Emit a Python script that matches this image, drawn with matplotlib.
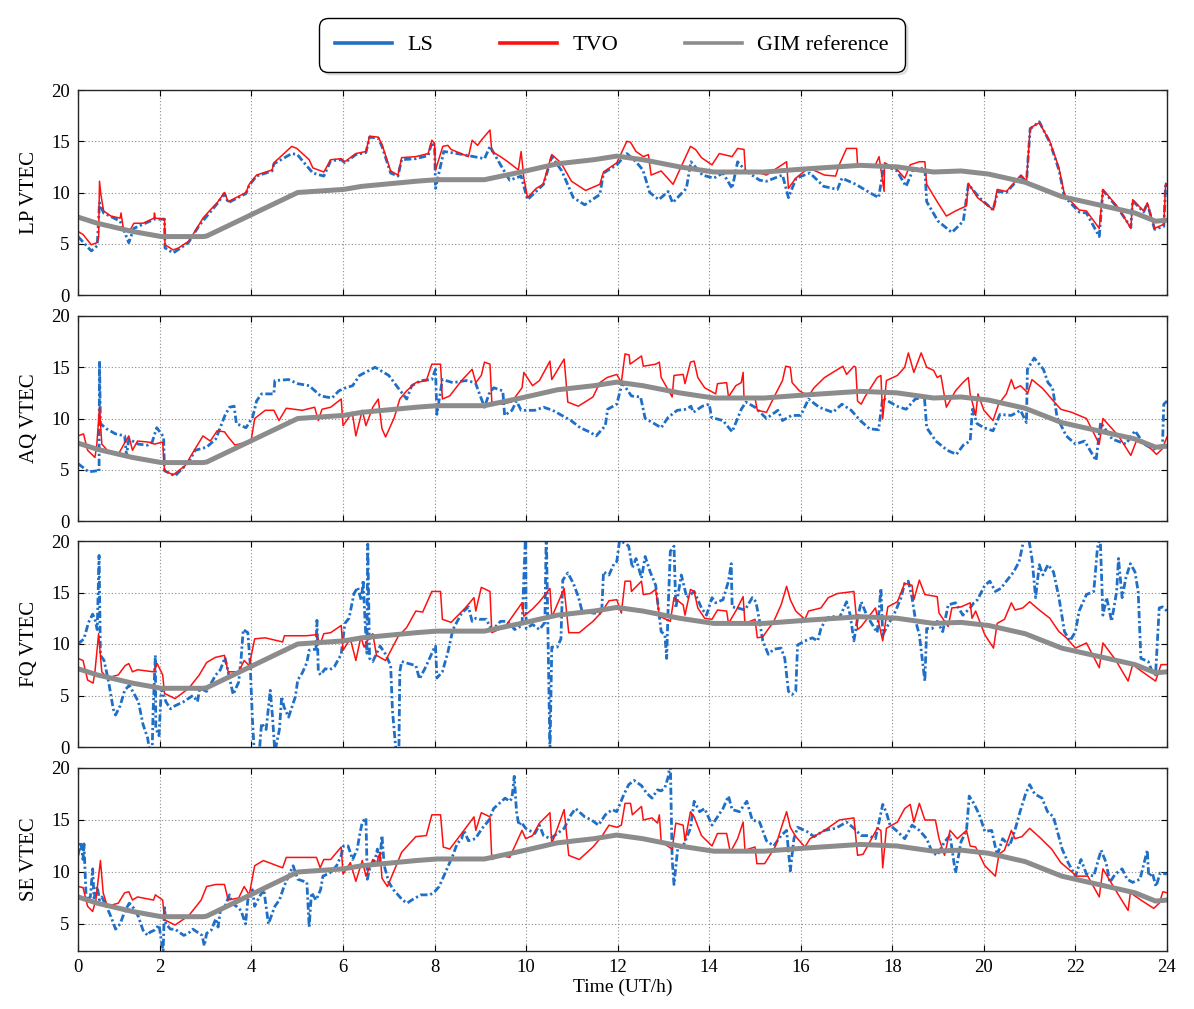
import matplotlib
matplotlib.use("Agg")
import matplotlib.pyplot as plt

plt.rcParams['font.family'] = ['Liberation Serif', 'DejaVu Serif']

# ---------------- data ----------------
panel_labels = ["LP VTEC", "AQ VTEC", "FQ VTEC", "SE VTEC"]
series_names = ["LS", "TVO", "GIM reference"]
x_tick_pos = [0.21, 2, 4, 6, 8, 10, 12, 14, 16, 18, 20, 22, 24]
x_tick_labels = ["0", "2", "4", "6", "8", "10", "12", "14", "16", "18", "20", "22", "24"]
xlabel = "Time (UT/h)"

gim_t = [0.21, 0.63, 1.40, 2.03, 2.94, 3.02, 5.01, 6.01, 6.41, 7.60, 8.05, 9.09, 9.89, 10.68, 11.48,
         11.98, 12.55, 13.35, 14.1, 15.2, 16.1, 17.3, 18.1, 18.9, 19.5, 20.1, 20.9, 21.7, 22.5, 23.3, 23.75, 24.0]
gim_v = [7.6, 7.0, 6.2, 5.7, 5.7, 5.75, 10.0, 10.3, 10.6, 11.1, 11.25, 11.25, 12.0, 12.8, 13.2,
         13.55, 13.2, 12.5, 12.0, 12.0, 12.3, 12.65, 12.5, 12.0, 12.1, 11.8, 11.0, 9.6, 8.8, 8.0, 7.2, 7.3]

# ---- LP ----
lp_tvo_t = [0.21, 0.32, 0.50, 0.62, 0.66, 0.68, 0.71, 0.77, 0.93, 1.13, 1.15, 1.20, 1.32, 1.43, 1.63, 1.87, 1.88, 1.90,
            2.10, 2.11, 2.29, 2.41, 2.63, 2.86, 2.94, 3.10, 3.25, 3.41, 3.49, 3.88, 3.95, 4.11, 4.45, 4.49, 4.88, 4.99,
            5.26, 5.34, 5.58, 5.73, 5.96, 6.04, 6.28, 6.50, 6.58, 6.77, 6.85, 7.04, 7.20, 7.28, 7.59, 7.86, 7.94, 8.00,
            8.02, 8.18, 8.29, 8.36, 8.74, 8.82, 8.94, 9.02, 9.21, 9.25, 9.44, 9.60, 9.83, 9.89, 9.95, 10.03, 10.22,
            10.37, 10.56, 10.76, 10.99, 11.30, 11.61, 11.69, 11.98, 12.2, 12.28, 12.4, 12.56, 12.67, 12.73, 12.95,
            13.21, 13.59, 13.7, 13.83, 14.06, 14.22, 14.5, 14.62, 14.76, 14.79, 15.1, 15.25, 15.69, 15.73, 15.89,
            16.17, 16.52, 16.76, 16.84, 17.0, 17.22, 17.24, 17.63, 17.71, 17.82, 17.83, 18.11, 18.27, 18.39, 18.59,
            18.71, 18.75, 18.98, 19.18, 19.38, 19.62, 19.66, 19.86, 20.21, 20.29, 20.49, 20.65, 20.81, 20.93, 21.01,
            21.21, 21.44, 21.64, 21.76, 22.08, 22.24, 22.52, 22.6, 22.94, 23.21, 23.25, 23.49, 23.57, 23.73, 23.93,
            23.97, 24.0]
lp_tvo_v = [6.2, 5.9, 4.9, 5.1, 5.6, 11.1, 9.8, 8.2, 7.7, 7.5, 8.0, 6.5, 6.1, 7.0, 7.0, 7.5, 8.0, 7.5,
            7.4, 4.9, 4.4, 4.6, 5.25, 6.9, 7.5, 8.3, 9.0, 10.0, 9.1, 10.0, 10.8, 11.7, 12.2, 12.9, 14.5, 14.3,
            13.2, 12.4, 12.0, 13.2, 13.3, 13.0, 13.8, 14.0, 15.5, 15.4, 14.7, 12.1, 11.7, 13.4, 13.5, 13.8, 15.1, 14.8,
            12.2, 14.5, 14.6, 14.2, 13.5, 15.1, 14.6, 15.1, 16.1, 14.0, 13.5, 13.0, 12.2, 14.0, 11.4, 9.5, 10.4,
            10.8, 13.7, 12.9, 11.1, 10.2, 10.8, 12.0, 12.9, 15.0, 14.9, 14.0, 13.5, 13.7, 11.7, 12.1,
            10.8, 14.5, 14.2, 13.4, 12.7, 13.8, 13.5, 14.3, 14.2, 12.1, 11.9, 11.7, 13.0, 10.4, 11.4,
            12.4, 11.7, 11.6, 12.7, 14.3, 14.3, 12.7, 12.7, 13.5, 10.1, 12.9, 12.2, 11.4, 12.7, 13.0,
            13.0, 10.8, 9.1, 7.7, 8.2, 8.7, 10.9, 9.5, 8.3, 10.3, 10.1, 10.9, 11.7, 11.1, 16.3,
            16.8, 15.0, 12.4, 9.8, 8.3, 8.2, 6.5, 10.3, 8.5, 6.5, 9.3, 8.2, 9.0, 6.5, 6.9,
            10.9, 10.8]
lp_ls_t = [0.21, 0.50, 0.63, 0.68, 0.77, 1.13, 1.32, 1.43, 1.88, 2.10, 2.11, 2.29, 2.62, 2.86, 3.10, 3.25, 3.41, 3.49,
           3.88, 3.95, 4.11, 4.45, 4.49, 4.88, 5.00, 5.34, 5.58, 5.73, 5.96, 6.04, 6.28, 6.50, 6.58, 6.77, 6.85, 7.04,
           7.20, 7.28, 7.59, 7.86, 7.94, 8.00, 8.02, 8.20, 8.50, 9.09, 9.21, 9.44, 9.64, 9.89, 10.03, 10.38, 10.56,
           10.78, 11.03, 11.28, 11.61, 11.69, 11.98, 12.2, 12.4, 12.55, 12.7, 12.9, 13.1, 13.2, 13.5, 13.6, 13.85,
           14.1, 14.3, 14.5, 14.62, 14.8, 15.1, 15.25, 15.6, 15.73, 15.9, 16.2, 16.5, 16.8, 16.9, 17.2, 17.5, 17.7,
           17.82, 18.1, 18.3, 18.45, 18.71, 18.75, 19.0, 19.3, 19.55, 19.66, 19.9, 20.2, 20.3, 20.49, 20.65, 20.81,
           20.93, 21.01, 21.21, 21.44, 21.64, 21.76, 22.08, 22.24, 22.52, 22.6, 22.94, 23.21, 23.25, 23.49, 23.57,
           23.73, 23.93, 23.97, 24.0]
lp_ls_v = [5.7, 4.3, 4.8, 9.0, 8.0, 7.2, 5.1, 6.5, 7.4, 7.4, 4.6, 4.1, 5.1, 6.8, 8.1, 8.9, 9.9, 9.0,
           9.9, 10.7, 11.6, 12.1, 12.8, 13.8, 13.7, 11.9, 11.6, 13.1, 13.2, 12.9, 13.7, 13.9, 15.4, 15.3, 14.5, 11.9,
           11.6, 13.2, 13.3, 13.6, 14.9, 14.5, 10.4, 14.0, 13.8, 13.3, 14.5, 12.7, 11.2, 11.6, 9.3, 10.8, 13.5,
           12.1, 9.5, 8.8, 9.8, 11.9, 12.7, 13.8, 13.0, 12.2, 10.0, 9.3, 10.1, 9.0, 10.4, 13.0, 11.7,
           11.4, 11.9, 10.4, 13.0, 12.1, 11.2, 11.1, 11.7, 9.5, 11.4, 11.9, 10.6, 10.3, 11.4, 10.8, 10.0, 9.5,
           12.7, 12.1, 10.6, 12.2, 12.4, 9.1, 7.2, 6.1, 7.2, 10.8, 9.5, 8.3, 10.1, 10.0, 10.8, 11.6,
           11.0, 16.2, 16.9, 14.9, 12.2, 9.6, 8.1, 8.0, 5.7, 10.2, 8.4, 6.6, 9.2, 8.1, 8.9,
           6.4, 6.7, 10.8, 10.9]

# ---- AQ ----
aq_tvo_t = [0.21, 0.33, 0.42, 0.58, 0.62, 0.68, 0.73, 0.85, 1.09, 1.24, 1.32, 1.40, 1.51, 1.75, 1.88, 2.06, 2.10, 2.29,
            2.55, 2.75, 2.94, 3.10, 3.25, 3.41, 3.49, 3.64, 3.88, 3.99, 4.07, 4.30, 4.49, 4.60, 4.76, 5.11, 5.38, 5.46,
            5.54, 5.73, 5.96, 6.00, 6.20, 6.28, 6.42, 6.50, 6.65, 6.77, 6.85, 6.93, 7.12, 7.24, 7.39, 7.59, 7.82, 7.94,
            8.13, 8.17, 8.33, 8.59, 8.82, 8.90, 9.02, 9.09, 9.21, 9.25, 9.44, 9.68, 9.91, 9.95, 10.14, 10.29, 10.52,
            10.56, 10.83, 10.91, 11.14, 11.46, 11.61, 11.77, 11.98, 12.08, 12.16, 12.25, 12.27, 12.52, 12.56, 12.83,
            12.91, 12.95, 13.19, 13.23, 13.43, 13.47, 13.59, 13.67, 13.75, 13.9, 14.14, 14.18, 14.38, 14.42, 14.58,
            14.7, 14.74, 14.76, 15.0, 15.05, 15.25, 15.45, 15.6, 15.67, 15.77, 15.81, 15.97, 16.17, 16.29, 16.52,
            16.92, 17.0, 17.16, 17.2, 17.24, 17.32, 17.4, 17.67, 17.75, 17.79, 17.87, 18.11, 18.27, 18.35, 18.47,
            18.63, 18.75, 18.9, 18.98, 19.06, 19.18, 19.38, 19.54, 19.66, 19.7, 19.82, 19.87, 20.0, 20.2, 20.32,
            20.49, 20.6, 20.67, 20.8, 20.96, 21.05, 21.29, 21.52, 21.68, 21.92, 22.24, 22.52, 22.6, 22.94, 23.21,
            23.33, 23.57, 23.77, 23.89, 24.0]
aq_tvo_v = [8.3, 8.5, 6.9, 6.2, 7.4, 11.1, 7.5, 6.9, 6.5, 7.7, 8.3, 6.9, 7.8, 7.7, 7.5, 7.7, 4.9, 4.5,
            5.4, 6.9, 8.3, 7.8, 8.8, 8.7, 8.2, 7.4, 7.7, 7.8, 10.0, 10.8, 10.8, 9.8, 11.0, 10.8, 11.1, 9.8,
            10.9, 11.1, 11.9, 9.3, 10.6, 8.3, 10.8, 9.3, 11.1, 11.9, 9.0, 8.2, 10.1, 11.9, 12.7, 13.5, 13.7, 15.3,
            15.3, 11.9, 12.2, 13.7, 14.8, 13.5, 14.2, 15.5, 15.3, 11.6, 11.4, 11.6, 13.0, 14.5, 13.2, 13.7, 15.6,
            13.8, 15.8, 11.6, 11.2, 12.1, 13.5, 14.0, 14.3, 13.5, 16.3, 16.2, 15.3, 16.1, 15.1, 15.3,
            15.5, 14.0, 12.1, 14.2, 14.3, 13.4, 15.5, 15.6, 14.0, 13.0, 12.4, 13.4, 13.5, 12.1, 13.2,
            13.5, 14.5, 11.9, 12.0, 10.8, 10.6, 12.4, 13.7, 15.1, 15.0, 13.5, 12.7, 12.2, 13.0, 14.0,
            15.1, 14.3, 15.1, 15.0, 11.7, 11.4, 12.1, 14.0, 14.2, 10.0, 13.7, 14.2, 15.0, 16.4, 14.5,
            16.4, 15.0, 14.7, 14.0, 14.2, 11.1, 12.7, 13.5, 14.0, 12.4, 10.3, 12.4, 10.8, 9.8, 11.4,
            12.4, 13.8, 12.9, 13.2, 12.5, 13.8, 12.9, 11.7, 10.9, 10.6, 10.0, 7.5, 10.0, 8.3, 6.4,
            7.8, 7.4, 6.5, 7.0, 8.2]
aq_ls_t = [0.21, 0.44, 0.63, 0.67, 0.68, 0.70, 0.83, 1.03, 1.23, 1.27, 1.32, 1.53, 1.73, 1.83, 1.93, 2.03, 2.08, 2.10,
           2.33, 2.62, 2.77, 3.02, 3.22, 3.42, 3.52, 3.62, 3.67, 3.88, 4.02, 4.07, 4.11, 4.22, 4.49, 4.51, 4.81, 5.01,
           5.26, 5.51, 5.76, 5.91, 6.06, 6.21, 6.36, 6.70, 7.00, 7.20, 7.39, 7.50, 7.70, 7.94, 8.02, 8.05, 8.17, 8.40,
           8.69, 8.89, 9.09, 9.19, 9.29, 9.49, 9.53, 9.69, 9.79, 9.89, 10.19, 10.38, 10.58, 10.78, 10.98, 11.18,
           11.38, 11.53, 11.73, 11.78, 11.98, 12.1, 12.3, 12.5, 12.6, 12.8, 12.95, 13.1, 13.3, 13.5, 13.6, 13.65,
           13.85, 14.0, 14.05, 14.3, 14.5, 14.7, 14.8, 15.0, 15.25, 15.5, 15.6, 15.8, 16.0, 16.17, 16.4, 16.7, 16.9,
           17.1, 17.3, 17.5, 17.7, 17.79, 18.1, 18.3, 18.5, 18.7, 18.75, 18.95, 19.2, 19.4, 19.55, 19.7, 19.75,
           19.85, 20.0, 20.2, 20.35, 20.6, 20.8, 20.93, 20.95, 21.1, 21.3, 21.4, 21.5, 21.6, 21.8, 22.0, 22.2,
           22.45, 22.55, 22.8, 23.1, 23.3, 23.5, 23.7, 23.9, 23.93, 24.0]
aq_ls_v = [5.6, 4.8, 4.9, 4.8, 15.6, 9.5, 9.0, 8.5, 8.3, 6.4, 8.0, 7.5, 7.4, 7.7, 9.1, 8.5, 8.2, 4.9,
           4.4, 5.7, 6.9, 7.2, 8.0, 10.3, 11.1, 11.2, 9.5, 9.1, 10.1, 10.9, 11.7, 12.4, 12.4, 13.7, 13.8, 13.4,
           13.2, 12.2, 12.0, 12.7, 13.0, 13.2, 14.2, 15.0, 14.2, 13.0, 11.9, 13.2, 13.7, 13.8, 14.8, 10.4, 13.8, 13.5,
           13.7, 13.5, 11.1, 12.4, 13.0, 12.7, 10.3, 10.8, 11.7, 10.8, 10.8, 11.1, 10.8, 10.3, 9.8, 9.1,
           8.7, 8.3, 9.3, 10.9, 11.4, 13.5, 12.2, 12.1, 10.0, 9.5, 9.1, 10.1, 10.8, 10.9, 11.2, 10.6,
           11.2, 11.4, 10.1, 9.8, 8.7, 10.9, 11.6, 11.1, 10.0, 10.8, 9.8, 10.3, 10.3, 11.9, 11.1, 10.6, 11.4,
           10.8, 9.8, 9.0, 8.9, 12.0, 11.2, 10.9, 11.9, 12.1, 9.1, 7.8, 6.9, 6.5, 7.4, 7.8, 10.9,
           9.5, 9.1, 8.8, 10.4, 10.3, 10.8, 9.6, 14.8, 15.9, 14.8, 13.5, 13.0, 10.1, 8.3, 7.5, 7.8,
           5.9, 9.6, 8.0, 7.5, 8.8, 7.5, 7.0, 7.2, 11.4, 11.7]

# ---- FQ ----
fq_tvo_t = [0.21, 0.32, 0.42, 0.54, 0.58, 0.66, 0.73, 0.85, 1.09, 1.24, 1.32, 1.40, 1.51, 1.86, 1.94, 2.06, 2.10, 2.33,
            2.63, 2.86, 3.02, 3.21, 3.41, 3.49, 3.72, 3.84, 3.95, 4.07, 4.30, 4.68, 4.72, 5.19, 5.42, 5.50, 5.58, 5.73,
            5.96, 6.00, 6.16, 6.28, 6.39, 6.46, 6.58, 6.65, 6.73, 6.93, 7.20, 7.39, 7.59, 7.74, 7.94, 8.13, 8.17, 8.36,
            8.67, 8.86, 8.90, 9.02, 9.21, 9.25, 9.40, 9.56, 9.91, 9.95, 10.14, 10.29, 10.52, 10.56, 10.83, 10.93,
            11.16, 11.46, 11.65, 11.81, 11.98, 12.08, 12.16, 12.28, 12.3, 12.52, 12.56, 12.71, 12.83, 12.91, 13.15,
            13.23, 13.43, 13.47, 13.59, 13.67, 13.75, 13.9, 14.06, 14.18, 14.38, 14.42, 14.58, 14.74, 14.78, 15.0,
            15.05, 15.17, 15.41, 15.57, 15.69, 15.77, 15.89, 16.09, 16.17, 16.44, 16.6, 16.8, 17.16, 17.24, 17.32,
            17.63, 17.79, 17.9, 18.11, 18.27, 18.43, 18.47, 18.59, 18.71, 18.98, 19.02, 19.22, 19.3, 19.5, 19.7,
            19.74, 19.82, 20.02, 20.21, 20.29, 20.45, 20.6, 20.68, 20.85, 21.0, 21.21, 21.44, 21.64, 21.8, 22.0,
            22.24, 22.52, 22.6, 22.87, 23.15, 23.25, 23.43, 23.75, 23.87, 24.0]
fq_tvo_v = [8.6, 8.4, 6.5, 6.2, 7.3, 11.0, 7.3, 6.7, 7.0, 7.9, 8.1, 7.3, 7.5, 7.3, 8.1, 7.0, 5.2, 4.7,
            5.7, 7.0, 8.2, 8.7, 8.9, 7.3, 7.3, 8.4, 7.9, 10.5, 10.6, 10.2, 10.8, 10.8, 10.9, 10.0, 11.0, 11.1,
            11.8, 9.4, 10.5, 8.4, 10.7, 9.7, 10.7, 11.0, 8.9, 8.4, 10.7, 11.6, 13.2, 13.1, 15.1, 15.1, 12.4, 12.1,
            13.5, 14.5, 13.2, 15.5, 15.1, 11.1, 11.4, 11.8, 14.0, 12.7, 13.4, 14.1, 15.4, 12.6, 15.4, 11.1,
            11.1, 12.2, 13.1, 14.2, 14.3, 13.0, 16.1, 16.1, 15.1, 16.1, 14.8, 14.9, 15.3, 12.7, 12.2,
            14.5, 13.8, 12.8, 15.3, 15.1, 13.5, 12.5, 12.4, 13.3, 13.2, 12.0, 13.2, 14.6, 12.0, 12.4,
            10.6, 10.7, 12.2, 13.8, 15.6, 14.3, 13.2, 12.4, 13.2, 13.5, 14.5, 14.9, 15.1, 11.4, 11.7,
            13.5, 10.3, 13.6, 14.1, 15.9, 15.7, 14.3, 16.2, 14.8, 14.6, 13.0, 11.7, 13.5, 13.6, 14.0,
            12.5, 13.2, 10.9, 9.6, 12.0, 12.4, 14.0, 13.3, 13.5, 14.1, 13.3, 12.5, 11.2, 10.6, 9.6,
            10.1, 7.7, 10.1, 8.5, 6.4, 8.0, 7.4, 6.4, 8.0, 8.0]
fq_ls_t = [0.21, 0.34, 0.44, 0.53, 0.58, 0.63, 0.67, 0.70, 0.78, 0.88, 0.98, 1.03, 1.13, 1.23, 1.33, 1.43, 1.53, 1.63,
           1.73, 1.78, 1.83, 1.85, 1.90, 1.91, 1.98, 2.03, 2.13, 2.23, 2.33, 2.52, 2.72, 2.82, 2.87, 3.02, 3.22, 3.32,
           3.42, 3.52, 3.60, 3.72, 3.77, 3.82, 3.92, 3.97, 4.02, 4.06, 4.17, 4.22, 4.32, 4.41, 4.46, 4.51, 4.61, 4.66,
           4.71, 4.81, 4.96, 5.01, 5.11, 5.21, 5.26, 5.41, 5.43, 5.46, 5.51, 5.61, 5.71, 5.81, 5.96, 6.04, 6.13, 6.24,
           6.32, 6.40, 6.44, 6.48, 6.52, 6.54, 6.58, 6.65, 6.81, 6.93, 7.04, 7.08, 7.16, 7.22, 7.24, 7.28, 7.43,
           7.59, 7.67, 7.82, 7.98, 8.02, 8.05, 8.17, 8.29, 8.40, 8.59, 8.74, 8.82, 8.90, 8.98, 9.13, 9.25, 9.44,
           9.60, 9.75, 9.91, 9.99, 10.00, 10.14, 10.29, 10.41, 10.44, 10.48, 10.52, 10.56, 10.68, 10.76, 10.80,
           10.91, 11.03, 11.14, 11.22, 11.46, 11.65, 11.69, 11.81, 11.92, 11.98, 12.04, 12.16, 12.24, 12.32, 12.4,
           12.52, 12.6, 12.71, 12.83, 12.91, 12.95, 13.03, 13.07, 13.1, 13.15, 13.23, 13.27, 13.39, 13.51, 13.67,
           13.83, 13.94, 14.06, 14.14, 14.3, 14.42, 14.48, 14.5, 14.62, 14.78, 14.94, 15.02, 15.1, 15.17, 15.29,
           15.41, 15.57, 15.65, 15.73, 15.81, 15.89, 15.93, 16.09, 16.25, 16.37, 16.44, 16.56, 16.68, 16.84, 17.0,
           17.08, 17.16, 17.24, 17.32, 17.44, 17.56, 17.67, 17.75, 17.79, 17.95, 18.07, 18.19, 18.27, 18.35, 18.43,
           18.51, 18.59, 18.71, 18.75, 18.87, 18.98, 19.1, 19.22, 19.38, 19.54, 19.7, 19.78, 19.86, 20.02, 20.13,
           20.25, 20.37, 20.49, 20.65, 20.77, 20.89, 20.97, 21.05, 21.13, 21.21, 21.29, 21.4, 21.52, 21.64, 21.76,
           21.88, 22.0, 22.08, 22.24, 22.4, 22.48, 22.54, 22.6, 22.68, 22.79, 22.9, 22.94, 23.02, 23.1, 23.2, 23.3,
           23.37, 23.43, 23.59, 23.67, 23.75, 23.83, 23.9, 24.0]
fq_ls_v = [10.0, 10.5, 12.1, 12.9, 12.4, 11.4, 18.6, 8.9, 8.4, 6.3, 3.7, 3.1, 4.0, 5.5, 6.0, 5.2, 4.4, 2.2,
           0.9, -0.5, -0.5, 3.4, 8.9, 1.8, 1.1, 5.7, 4.4, 3.7, 4.0, 4.4, 5.0, 4.4, 5.7, 5.4, 7.0, 7.5,
           8.7, 6.7, 5.1, 6.3, 8.4, 11.4, 11.1, 8.2, 2.7, -0.5, -0.5, 2.3, 1.7, 5.5, 2.9, -0.5, 1.7, 4.9,
           3.9, 2.9, 4.9, 6.5, 7.2, 8.2, 9.4, 9.5, 12.3, 7.3, 7.0, 7.6, 7.5, 7.8, 9.0, 12.0, 12.5, 14.9,
           15.5, 14.2, 16.2, 12.3, 9.1, 19.7, 8.6, 8.3, 9.8, 9.0, 7.9, 3.5, -0.5, -0.5, 7.3, 8.3, 8.1,
           7.9, 6.6, 7.9, 9.5, 9.8, 6.7, 7.3, 9.2, 11.4, 13.0, 13.6, 12.2, 12.5, 12.4, 12.4, 11.3, 12.2,
           12.2, 11.4, 11.8, 21.0, 11.5, 11.9, 11.4, 12.1, 21.0, 10.2, -0.5, 9.7, 9.7, 10.5, 16.2,
           16.9, 15.9, 14.6, 13.2, 13.0, 13.0, 17.0, 16.7, 17.8, 18.0, 20.0, 19.8, 19.5, 17.4, 18.3,
           16.4, 18.5, 17.0, 15.7, 12.7, 11.2, 10.9, 8.6, 13.2, 19.0, 19.5, 13.5, 16.7, 14.5, 15.1,
           13.5, 12.8, 14.5, 14.0, 14.3, 16.1, 17.8, 13.6, 13.5, 13.3, 14.5, 14.1, 12.2, 10.3, 9.0,
           9.5, 9.6, 8.6, 5.4, 5.1, 5.4, 9.9, 10.3, 10.6, 10.3, 11.5, 12.5, 12.7, 12.5, 14.1,
           12.8, 10.3, 12.5, 14.1, 12.8, 11.9, 11.1, 15.4, 10.9, 12.2, 13.2, 14.5, 15.9, 16.1, 14.5,
           12.2, 10.9, 6.4, 11.5, 11.5, 12.2, 11.2, 13.8, 14.0, 12.8, 13.5, 14.0, 14.3, 15.7, 16.1,
           15.1, 15.4, 16.1, 17.0, 18.0, 20.5, 20.5, 18.3, 14.5, 17.7, 16.7, 17.7, 17.0, 14.5, 11.2,
           10.3, 11.2, 13.2, 14.8, 15.1, 19.3, 20.5, 12.8, 14.5, 12.2, 15.1, 18.3, 14.5, 16.4, 17.8, 17.0,
           15.1, 8.6, 8.3, 7.4, 7.0, 13.5, 13.6, 13.2]

# ---- SE ----
se_tvo_t = [0.21, 0.32, 0.42, 0.53, 0.60, 0.70, 0.76, 0.85, 1.09, 1.23, 1.32, 1.40, 1.51, 1.86, 1.90, 2.06, 2.10, 2.33,
            2.63, 2.90, 3.02, 3.22, 3.41, 3.49, 3.72, 3.84, 3.95, 4.07, 4.26, 4.68, 4.76, 5.19, 5.42, 5.50, 5.58, 5.73,
            5.96, 6.00, 6.16, 6.28, 6.42, 6.50, 6.65, 6.73, 6.81, 6.85, 6.97, 7.16, 7.28, 7.59, 7.82, 7.94, 8.13, 8.19,
            8.33, 8.59, 8.86, 8.90, 9.02, 9.21, 9.25, 9.44, 9.64, 9.91, 9.99, 10.14, 10.29, 10.52, 10.56, 10.83,
            10.93, 11.16, 11.46, 11.65, 11.81, 11.98, 12.08, 12.16, 12.28, 12.32, 12.52, 12.56, 12.75, 12.87, 12.91,
            12.95, 13.19, 13.27, 13.43, 13.47, 13.59, 13.67, 13.83, 14.06, 14.18, 14.38, 14.46, 14.62, 14.74, 14.78,
            15.0, 15.04, 15.21, 15.45, 15.57, 15.69, 15.77, 15.89, 16.09, 16.2, 16.52, 16.84, 17.16, 17.24, 17.36,
            17.67, 17.75, 17.79, 17.87, 18.11, 18.27, 18.39, 18.47, 18.59, 18.71, 18.94, 19.02, 19.14, 19.26, 19.42,
            19.62, 19.7, 19.82, 20.02, 20.25, 20.33, 20.45, 20.6, 20.68, 20.83, 21.0, 21.25, 21.48, 21.68, 21.84,
            22.03, 22.27, 22.52, 22.6, 22.87, 23.15, 23.2, 23.43, 23.71, 23.83, 23.91, 24.0]
se_tvo_v = [8.6, 8.5, 6.7, 6.2, 7.3, 11.1, 8.0, 6.7, 7.0, 8.0, 8.1, 7.3, 7.6, 7.3, 7.8, 7.3, 5.4, 4.9,
            5.8, 7.3, 8.6, 8.8, 8.8, 7.3, 7.5, 8.6, 7.8, 10.6, 11.1, 10.4, 11.4, 11.4, 11.4, 10.4, 11.2, 11.2,
            12.4, 9.8, 10.9, 9.1, 11.1, 9.6, 11.2, 10.8, 11.9, 9.4, 8.6, 10.6, 11.9, 13.4, 13.5, 15.5, 15.5, 12.4,
            12.2, 13.7, 15.3, 14.0, 15.7, 15.3, 11.2, 11.6, 11.4, 14.0, 13.2, 13.5, 14.7, 15.7, 12.7, 16.0,
            11.6, 11.2, 12.4, 13.4, 14.5, 14.3, 14.5, 16.6, 16.6, 15.5, 16.3, 15.0, 15.2, 14.7, 15.5,
            12.9, 12.2, 14.7, 14.5, 13.0, 15.8, 15.3, 13.5, 12.5, 13.7, 13.7, 11.9, 13.2, 14.8, 12.1,
            12.4, 10.8, 10.8, 12.5, 14.2, 15.8, 14.3, 13.4, 12.4, 13.2, 14.0, 15.0, 15.2, 11.6, 11.7,
            14.2, 14.0, 10.4, 14.2, 14.8, 16.1, 16.5, 14.8, 16.6, 15.0, 15.0, 13.2, 11.6, 14.0, 13.2,
            14.0, 12.5, 12.4, 10.6, 9.6, 11.7, 12.1, 14.0, 13.2, 13.4, 14.2, 13.2, 12.2, 10.9, 10.3,
            9.6, 9.6, 7.6, 10.3, 8.3, 6.3, 8.0, 7.3, 6.5, 7.0, 8.1, 8.0]
se_ls_t = [0.21, 0.27, 0.32, 0.34, 0.39, 0.48, 0.53, 0.56, 0.63, 0.68, 0.73, 0.83, 0.93, 1.03, 1.13, 1.23, 1.33, 1.43,
           1.53, 1.63, 1.73, 1.78, 1.88, 1.98, 2.03, 2.07, 2.10, 2.13, 2.23, 2.33, 2.52, 2.62, 2.72, 2.82, 2.92, 2.97,
           3.02, 3.12, 3.22, 3.27, 3.32, 3.42, 3.52, 3.57, 3.67, 3.77, 3.87, 3.92, 4.02, 4.07, 4.17, 4.27, 4.37, 4.51,
           4.61, 4.71, 4.81, 4.91, 5.01, 5.21, 5.26, 5.31, 5.41, 5.51, 5.56, 5.71, 5.86, 5.96, 6.01, 6.11, 6.21, 6.31,
           6.36, 6.42, 6.50, 6.53, 6.60, 6.70, 6.75, 6.80, 6.85, 6.90, 7.00, 7.10, 7.20, 7.30, 7.40, 7.50, 7.70,
           7.90, 8.00, 8.10, 8.20, 8.30, 8.40, 8.49, 8.59, 8.64, 8.74, 8.89, 9.04, 9.19, 9.29, 9.39, 9.54, 9.64,
           9.69, 9.74, 9.79, 9.84, 9.89, 9.99, 10.19, 10.29, 10.38, 10.53, 10.68, 10.83, 10.98, 11.08, 11.28,
           11.43, 11.58, 11.73, 11.88, 11.98, 12.12, 12.24, 12.36, 12.52, 12.63, 12.75, 12.87, 12.95, 13.03, 13.1,
           13.15, 13.19, 13.23, 13.31, 13.43, 13.59, 13.67, 13.79, 13.9, 14.06, 14.18, 14.3, 14.42, 14.5, 14.66,
           14.82, 14.94, 15.1, 15.25, 15.41, 15.57, 15.69, 15.77, 15.85, 15.93, 16.13, 16.29, 16.52, 16.76, 17.0,
           17.16, 17.32, 17.48, 17.63, 17.79, 17.87, 17.95, 18.11, 18.27, 18.43, 18.59, 18.75, 18.87, 18.98, 19.14,
           19.26, 19.38, 19.5, 19.62, 19.68, 19.78, 19.9, 20.02, 20.17, 20.29, 20.41, 20.56, 20.67, 20.79, 20.91,
           21.0, 21.11, 21.27, 21.39, 21.52, 21.63, 21.71, 21.84, 22.0, 22.12, 22.24, 22.4, 22.56, 22.67, 22.75,
           22.87, 23.02, 23.13, 23.25, 23.41, 23.57, 23.6, 23.68, 23.76, 23.85, 24.0]
se_ls_v = [11.6, 12.9, 11.2, 12.7, 7.3, 7.6, 10.3, 7.5, 8.6, 7.3, 7.6, 6.7, 5.7, 4.5, 5.0, 6.2, 7.0, 6.5,
           5.7, 4.4, 3.9, 4.2, 4.4, 4.9, 3.4, 2.4, 6.7, 5.0, 4.5, 4.5, 3.9, 4.1, 4.5, 4.2, 3.9, 2.9,
           4.1, 4.4, 5.5, 4.7, 6.3, 6.7, 7.8, 7.0, 6.7, 6.3, 5.0, 7.3, 8.3, 6.7, 7.6, 8.3, 5.0, 6.7,
           7.3, 8.6, 9.6, 10.6, 9.3, 9.0, 4.7, 8.0, 7.3, 8.3, 9.6, 9.9, 10.6, 11.6, 12.5, 12.5, 11.2, 12.2,
           13.5, 14.8, 15.2, 9.3, 10.6, 11.2, 12.2, 10.9, 13.5, 10.6, 9.0, 8.3, 7.8, 7.3, 7.0, 7.3, 7.8,
           7.8, 8.1, 8.6, 9.6, 10.6, 11.6, 12.7, 13.2, 14.0, 13.0, 13.2, 14.2, 15.0, 16.1, 16.5, 17.1, 16.8,
           17.1, 19.2, 15.8, 14.5, 14.8, 14.2, 13.7, 14.5, 13.5, 13.2, 13.7, 14.2, 15.5, 16.1, 15.3,
           15.0, 14.5, 15.5, 16.0, 15.8, 17.3, 18.4, 18.8, 18.3, 17.6, 17.1, 17.9, 17.8, 18.1, 19.1,
           20.5, 11.2, 8.8, 12.2, 12.5, 14.2, 16.8, 15.8, 16.1, 14.5, 15.3, 16.1, 17.3, 16.0, 15.8,
           16.8, 15.0, 14.8, 13.0, 12.5, 13.5, 14.0, 10.1, 13.2, 14.3, 13.9, 13.4, 14.0, 14.2, 14.8,
           14.2, 13.5, 13.5, 13.2, 16.5, 15.7, 14.5, 13.9, 13.2, 14.5, 14.0, 13.2, 11.9, 11.6, 12.9,
           13.5, 9.9, 12.9, 14.0, 17.3, 16.6, 15.5, 13.9, 14.0, 11.6, 13.2, 12.5, 13.9, 15.8, 17.5,
           18.4, 17.5, 17.1, 15.8, 15.3, 13.5, 12.2, 10.9, 9.6, 11.2, 9.8, 9.6, 12.1, 10.9, 9.0,
           9.8, 10.3, 9.3, 9.0, 9.3, 12.1, 9.6, 9.9, 8.6, 9.9, 9.8]

ls_data = [(lp_ls_t, lp_ls_v), (aq_ls_t, aq_ls_v), (fq_ls_t, fq_ls_v), (se_ls_t, se_ls_v)]
tvo_data = [(lp_tvo_t, lp_tvo_v), (aq_tvo_t, aq_tvo_v), (fq_tvo_t, fq_tvo_v), (se_tvo_t, se_tvo_v)]
y_limits = [(0, 20), (0, 20), (0, 20), (2.4, 20)]
y_ticks = [[0, 5, 10, 15, 20], [0, 5, 10, 15, 20], [0, 5, 10, 15, 20], [5, 10, 15, 20]]

# ---------------- figure ----------------
W, H = 1194, 1009
fig = plt.figure(figsize=(W / 100, H / 100), dpi=100)

LS_COLOR = "#1f6fc6"
TVO_COLOR = "#ff1010"
GIM_COLOR = "#8c8c8c"

boxes = [(90, 295), (316, 521), (541, 747), (768, 951)]
left_px, right_px = 78, 1167

for i, (top, bot) in enumerate(boxes):
    ax = fig.add_axes([left_px / W, 1 - bot / H, (right_px - left_px) / W, (bot - top) / H])
    t, v = ls_data[i]
    ax.plot(t, v, color=LS_COLOR, lw=2.0, linestyle=(0, (2.6, 1.0, 0.8, 1.0)), label=series_names[0])
    t, v = tvo_data[i]
    ax.plot(t, v, color=TVO_COLOR, lw=1.1, label=series_names[1])
    ax.plot(gim_t, gim_v, color=GIM_COLOR, lw=3.6, label=series_names[2], solid_capstyle='round')
    ax.set_xlim(0.21, 24)
    ax.set_ylim(*y_limits[i])
    ax.set_yticks(y_ticks[i])
    ax.set_xticks(x_tick_pos)
    ax.grid(True, linestyle=(0, (1, 2)), color="0.55", lw=0.8)
    ax.tick_params(direction='in', top=True, right=True, length=4, width=0.8, labelsize=13.5,
                   pad=6, colors='black')
    for sp in ax.spines.values():
        sp.set_linewidth(1.0)
        sp.set_color('0.15')
    if i < 3:
        ax.set_xticklabels([])
    else:
        ax.set_xticklabels(x_tick_labels)
        ax.set_xlabel(xlabel, fontsize=14, labelpad=2)
    ax.set_ylabel(panel_labels[i], fontsize=15)
    ax.yaxis.set_label_coords(-0.036, 0.5)

handles = [plt.Line2D([], [], color=LS_COLOR, lw=2.6),
           plt.Line2D([], [], color=TVO_COLOR, lw=2.6),
           plt.Line2D([], [], color=GIM_COLOR, lw=2.6)]
leg = fig.legend(handles, series_names, loc='center', bbox_to_anchor=(612 / W, 1 - 45 / H),
                 ncol=3, fontsize=16, frameon=True, fancybox=True, edgecolor='black',
                 handlelength=2.55, handletextpad=0.7, columnspacing=3.0, borderpad=0.55,
                 shadow={'color': '0.8', 'alpha': 0.5, 'ox': 2, 'oy': -2})
leg.get_frame().set_linewidth(1.0)
leg.get_frame().set_boxstyle('round,pad=0.2,rounding_size=0.4')

fig.savefig("out.png", dpi=100)
